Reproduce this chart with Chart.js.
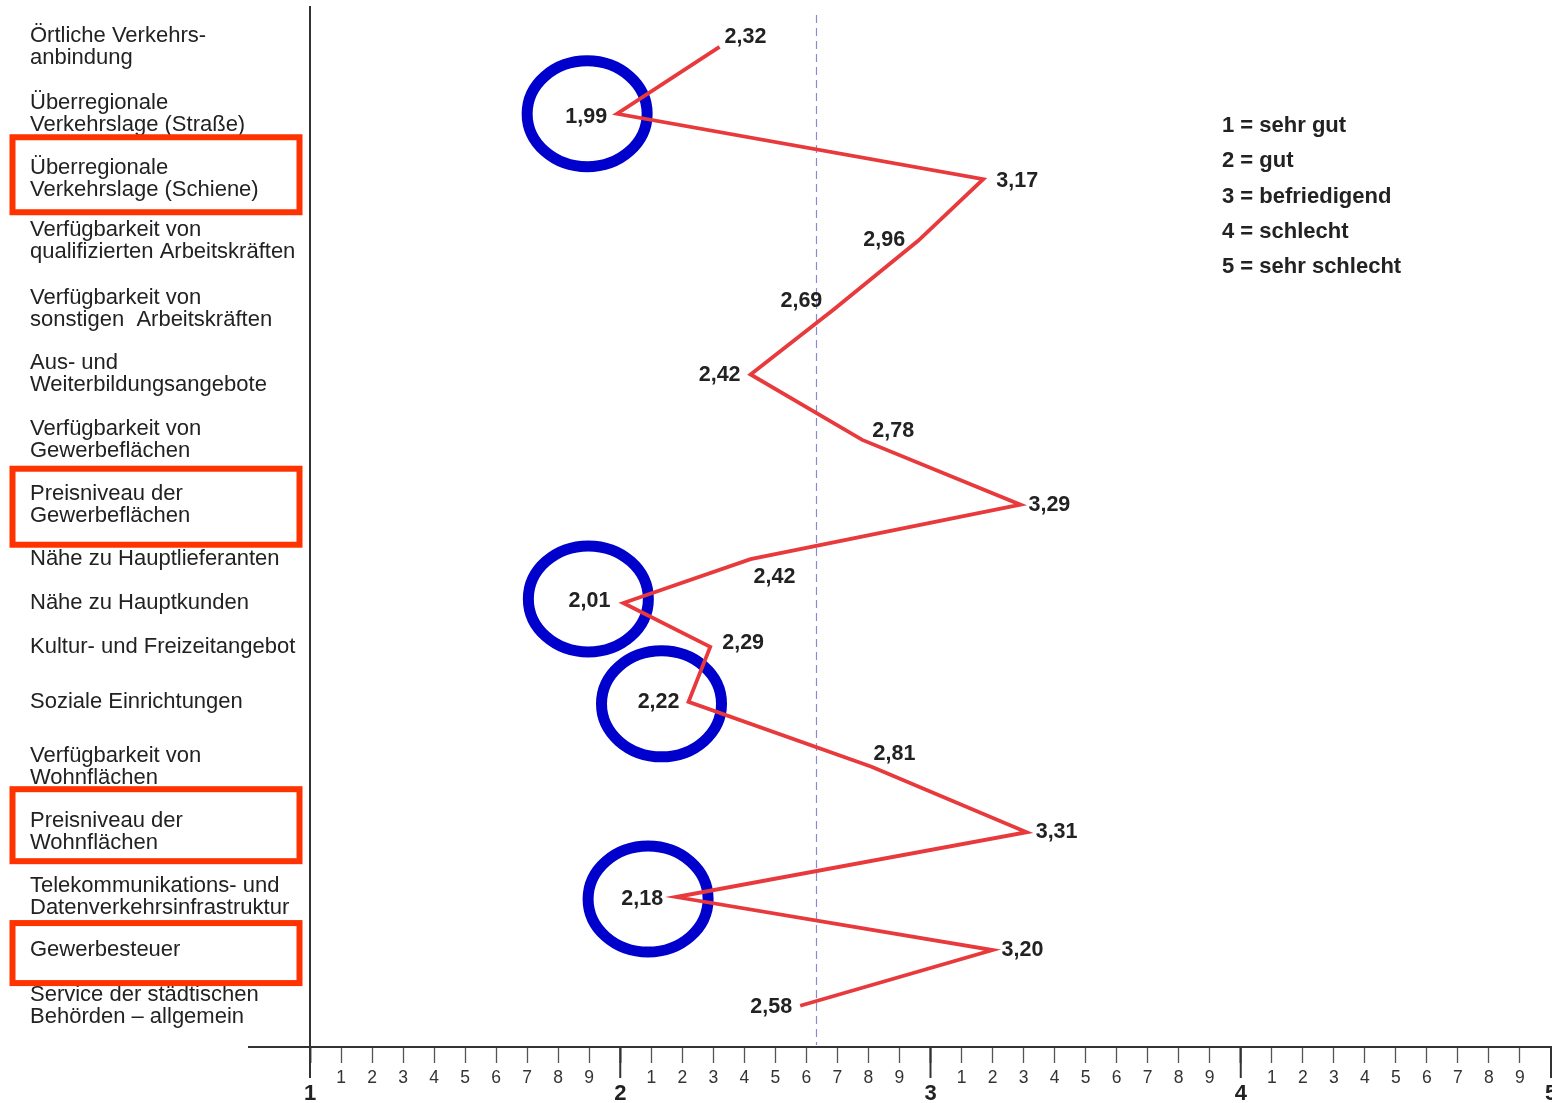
<!DOCTYPE html>
<html>
<head>
<meta charset="utf-8">
<script src="https://cdn.jsdelivr.net/npm/chart.js@4"></script>
<style>
  html, body { margin: 0; padding: 0; background: #fff; }
  #wrap { width: 1552px; height: 1103px; position: relative; }
</style>
</head>
<body>
<div id="wrap"><canvas id="standortChart"></canvas></div>
<script>
const categories = [
    ["Örtliche Verkehrs-", "anbindung"],
    ["Überregionale", "Verkehrslage (Straße)"],
    ["Überregionale", "Verkehrslage (Schiene)"],
    ["Verfügbarkeit von", "qualifizierten Arbeitskräften"],
    ["Verfügbarkeit von", "sonstigen  Arbeitskräften"],
    ["Aus- und", "Weiterbildungsangebote"],
    ["Verfügbarkeit von", "Gewerbeflächen"],
    ["Preisniveau der", "Gewerbeflächen"],
    "Nähe zu Hauptlieferanten",
    "Nähe zu Hauptkunden",
    "Kultur- und Freizeitangebot",
    "Soziale Einrichtungen",
    ["Verfügbarkeit von", "Wohnflächen"],
    ["Preisniveau der", "Wohnflächen"],
    ["Telekommunikations- und", "Datenverkehrsinfrastruktur"],
    "Gewerbesteuer",
    ["Service der städtischen", "Behörden – allgemein"]
];

// row positions on the vertical scale (rows are not evenly spaced in the original)
const rowPos = [0, 1.02, 2.02, 2.96, 4.0, 5.0, 6.0, 6.99, 7.82, 8.49, 9.16, 10.0, 10.99, 11.99, 12.98, 13.79, 14.64];

const ratings = [2.32, 1.99, 3.17, 2.96, 2.69, 2.42, 2.78, 3.29, 2.42, 2.01, 2.29, 2.22, 2.81, 3.31, 2.18, 3.20, 2.58];

const meanValue = 2.63;

const majorTickLabels = ["1", "2", "3", "4", "5"];
const minorTickLabels = ["1", "2", "3", "4", "5", "6", "7", "8", "9"];

const gradeLegend = ["1 = sehr gut", "2 = gut", "3 = befriedigend", "4 = schlecht", "5 = sehr schlecht"];

const circledRows = [1, 9, 11, 14];
const framedRows = [2, 7, 13, 15];

// label placement: side, dx, dy (pixels)
const labelPlace = [
    ["r", 5, -10], ["l", 10, 3], ["r", 13, 2], ["l", 13, -1], ["l", 12, -8],
    ["l", 10, 1], ["r", 10, -9], ["r", 8, 0], ["r", 3, 18], ["l", 13, -2],
    ["r", 12, -4], ["l", 9, 0], ["r", 2, -13], ["r", 9, 0], ["l", 13, 2],
    ["r", 9, 0], ["l", 8, 1]
];
const circleOffset = { 1: [-30, 0], 9: [-35, -4], 11: [-27, 2], 14: [-28, 2] };
const frameBox = { 2: [-4.5, 75], 7: [2, 76], 13: [-7, 72], 15: [3, 60] };

const FONT = "'Liberation Sans', Arial, Helvetica, sans-serif";

function fmt(v) {
    return v.toFixed(2).replace(".", ",");
}

function isMajor(v) {
    return Math.abs(v - Math.round(v)) < 1e-6;
}

const decor = {
    id: "decor",
    beforeDatasetsDraw(chart) {
        const c = chart.ctx, xs = chart.scales.x, area = chart.chartArea;
        // dashed mean line
        c.save();
        c.strokeStyle = "#8a8ad0";
        c.lineWidth = 1.2;
        c.setLineDash([8, 5]);
        const mx = Math.round(xs.getPixelForValue(meanValue)) + 0.5;
        c.beginPath();
        c.moveTo(mx, area.top + 8);
        c.lineTo(mx, area.bottom - 2);
        c.stroke();
        c.restore();

        // blue circles
        const pts = chart.getDatasetMeta(0).data;
        c.save();
        c.strokeStyle = "#0000cc";
        c.lineWidth = 11;
        circledRows.forEach(i => {
            const off = circleOffset[i];
            c.beginPath();
            c.ellipse(pts[i].x + off[0], pts[i].y + off[1], 60, 53, 0, 0, Math.PI * 2);
            c.stroke();
        });
        c.restore();
    },
    afterDatasetsDraw(chart) {
        const c = chart.ctx;
        const pts = chart.getDatasetMeta(0).data;
        c.save();
        c.fillStyle = "#222";
        c.font = "bold 21.5px " + FONT;
        c.textBaseline = "middle";
        ratings.forEach((v, i) => {
            const p = labelPlace[i];
            if (p[0] === "r") {
                c.textAlign = "left";
                c.fillText(fmt(v), pts[i].x + p[1], pts[i].y + p[2]);
            } else {
                c.textAlign = "right";
                c.fillText(fmt(v), pts[i].x - p[1], pts[i].y + p[2]);
            }
        });

        // grade legend
        c.font = "bold 22px " + FONT;
        c.textAlign = "left";
        gradeLegend.forEach((t, i) => {
            c.fillText(t, 1222, 126 + i * 35.25);
        });
        c.restore();
    },
    afterDraw(chart) {
        const c = chart.ctx, xs = chart.scales.x, ys = chart.scales.y, area = chart.chartArea;
        c.save();
        // axis line extends left of the plot
        c.strokeStyle = "#333";
        c.lineWidth = 2;
        c.beginPath();
        c.moveTo(248, area.bottom);
        c.lineTo(area.left, area.bottom);
        c.stroke();
        // long major ticks
        majorTickLabels.forEach(t => {
            const x = xs.getPixelForValue(Number(t));
            c.beginPath();
            c.moveTo(x, area.bottom);
            c.lineTo(x, area.bottom + 31);
            c.stroke();
        });
        // red frames
        c.strokeStyle = "#ff3300";
        c.lineWidth = 6;
        framedRows.forEach(i => {
            const b = frameBox[i];
            const cy = ys.getPixelForValue(rowPos[i]) + b[0];
            c.strokeRect(12.5, cy - b[1] / 2, 287, b[1]);
        });
        c.restore();
    }
};

const ctx = document.getElementById("standortChart").getContext("2d");

new Chart(ctx, {
    type: "line",
    data: {
        datasets: [{
            data: ratings.map((v, i) => ({ x: v, y: rowPos[i] })),
            borderColor: "#e8393c",
            borderWidth: 3.8,
            pointRadius: 0,
            tension: 0,
            fill: false
        }]
    },
    options: {
        responsive: true,
        maintainAspectRatio: false,
        animation: false,
        layout: { padding: { left: 30, top: 7, right: 1, bottom: 0 } },
        plugins: {
            legend: { display: false },
            tooltip: { enabled: false }
        },
        scales: {
            x: {
                type: "linear",
                min: 1,
                max: 5,
                afterBuildTicks: scale => {
                    const t = [];
                    majorTickLabels.forEach((m, i) => {
                        const base = Number(m);
                        t.push({ value: base });
                        if (i < majorTickLabels.length - 1) {
                            minorTickLabels.forEach(d => t.push({ value: base + Number(d) / 10 }));
                        }
                    });
                    scale.ticks = t;
                },
                afterFit: scale => {
                    scale.height = 56;
                    scale.paddingLeft = 0;
                    scale.paddingRight = 0;
                },
                border: { display: true, color: "#333", width: 2 },
                grid: {
                    drawOnChartArea: false,
                    drawTicks: true,
                    tickLength: 16,
                    tickColor: "#555",
                    tickWidth: c => (c.tick && isMajor(c.tick.value)) ? 2 : 1.3
                },
                ticks: {
                    autoSkip: false,
                    maxRotation: 0,
                    padding: 5,
                    color: c => (c.tick && isMajor(c.tick.value)) ? "#222" : "#333",
                    font: c => (c.tick && isMajor(c.tick.value))
                        ? { family: FONT, size: 22, weight: "bold", lineHeight: 0.78 }
                        : { family: FONT, size: 17.5, lineHeight: 1.2 },
                    callback: v => {
                        if (isMajor(v)) return ["", majorTickLabels[Math.round(v) - 1]];
                        const d = Math.round((v - Math.floor(v)) * 10);
                        return minorTickLabels[d - 1];
                    }
                }
            },
            y: {
                type: "linear",
                reverse: true,
                min: -0.61,
                max: 15.27,
                afterBuildTicks: scale => {
                    scale.ticks = rowPos.map(v => ({ value: v }));
                },
                afterFit: scale => {
                    scale.width = 280;
                    scale.paddingTop = 0;
                    scale.paddingBottom = 0;
                },
                border: { display: true, color: "#333", width: 2 },
                grid: { display: false, drawTicks: false },
                ticks: {
                    autoSkip: false,
                    crossAlign: "far",
                    padding: 0,
                    color: "#222",
                    font: { family: FONT, size: 22, lineHeight: 1.0 },
                    callback: (v, i) => categories[i]
                }
            }
        }
    },
    plugins: [decor]
});
</script>
</body>
</html>
